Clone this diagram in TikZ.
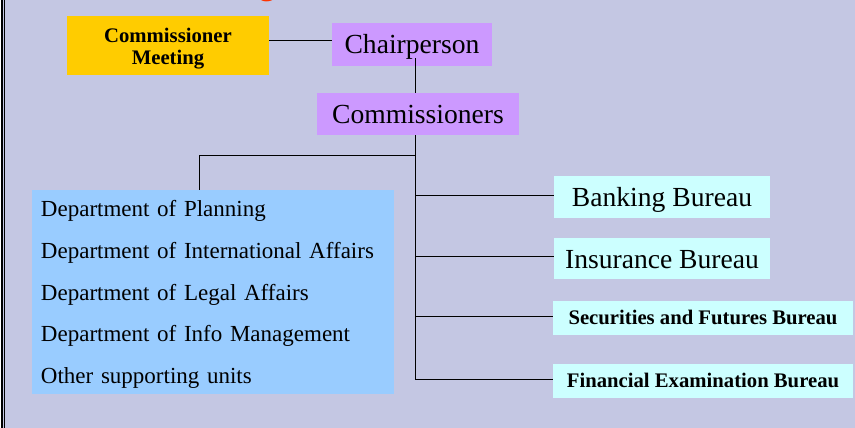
\documentclass[tikz,border=0pt]{standalone}
\usepackage{fontspec}
\setmainfont{Liberation Serif}
\usepackage{tikz}
\usetikzlibrary{positioning}
\definecolor{nenbieudo}{HTML}{C4C7E3}
\definecolor{hopvang}{HTML}{FFCC00}
\definecolor{hoptim}{HTML}{CC99FF}
\definecolor{hopxanh}{HTML}{99CCFF}
\definecolor{hopxanhnhat}{HTML}{CCFFFF}
\definecolor{dotieude}{HTML}{FF3300}

\begin{document}
\begin{tikzpicture}[x=1pt,y=-1pt,inner sep=0pt,
	chu/.style={font=\fontsize{27.6}{30}\selectfont,text height=25pt,text depth=6pt},
	chudam/.style={font=\bfseries\fontsize{20.7}{23}\selectfont,text height=18pt,text depth=4.5pt},
	cucbox/.style={fill=hopxanhnhat,minimum height=42pt}]
			\useasboundingbox (0,0) rectangle (855,428);
			\clip (0,0) rectangle (855,428);
			\fill[nenbieudo] (0,0) rectangle (855,428);
			% khung trai
			\fill[white] (0,0) rectangle (1,428);
			\draw[line width=2pt] (2.2,0) -- (2.2,428);
			\draw[line width=0.8pt] (4.6,0) -- (4.6,428);
			\node[text=dotieude,font=\fontsize{34}{34}\selectfont,anchor=base] (tieude) at (267,-5.5) {g};
			% lanh dao
			\node[fill=hopvang,font=\bfseries\fontsize{20.7}{22.3}\selectfont,align=center,minimum width=202pt,minimum height=59pt] (hop) at (168,45.5) {\raisebox{-3pt}[\height][\depth]{Commissioner}\\\raisebox{-3pt}[\height][\depth]{Meeting}};
			\node[fill=hoptim,chu,minimum width=160pt,minimum height=43pt] (chutich) at (412,44.5) {Chairperson};
			\node[fill=hoptim,chu,minimum width=202pt,minimum height=42pt] (uyvien) at (418,114) {Commissioners};
			% cac phong ban
			\node[fill=hopxanh,font=\fontsize{23}{41.75}\selectfont,align=left,text width=344pt,minimum width=362pt,minimum height=204pt] (phong) at (213,292) {\raisebox{-2.5pt}[\height][\depth]{Department of Planning}\\\raisebox{-2.5pt}[\height][\depth]{Department of International Affairs}\\\raisebox{-2.5pt}[\height][\depth]{Department of Legal Affairs}\\\raisebox{-2.5pt}[\height][\depth]{Department of Info Management}\\\raisebox{-2.5pt}[\height][\depth]{Other supporting units}};
			% cac cuc
			\node[cucbox,chu,minimum width=216pt] (nganhang) at (662,197) {Banking Bureau};
			\node[cucbox,chu,minimum width=216pt,minimum height=41pt] (baohiem) at (662,258.5) {Insurance Bureau};
			\node[cucbox,chudam,minimum width=300pt,minimum height=34pt] (chungkhoan) at (703,318) {Securities and Futures Bureau};
			\node[cucbox,chudam,minimum width=300pt,minimum height=34pt] (kiemtra) at (703,381) {Financial Examination Bureau};
			% duong noi
			\coordinate (truc) at (415,155);
			\draw ([yshift=5pt]hop.east) -- ([yshift=5pt]hop.east -| chutich.west);
			\draw ([yshift=8pt]chutich.south -| truc) -- (uyvien.north -| truc);
			\draw (uyvien.south -| truc) -- ([yshift=2pt]kiemtra.west -| truc);
			\draw (truc) -| ([xshift=-14pt]phong.north);
			\foreach \c in {nganhang,baohiem,chungkhoan,kiemtra}
				\draw ([yshift=2pt]\c.west -| truc) -- ([yshift=2pt]\c.west);
		\end{tikzpicture}
\end{document}
